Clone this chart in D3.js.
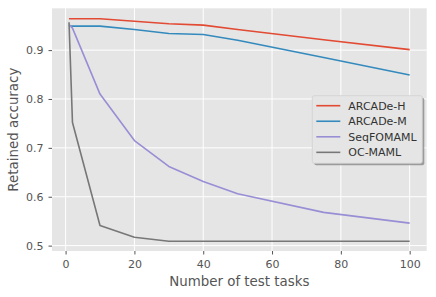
<!DOCTYPE html>
<html lang="en">
<head>
    <meta charset="UTF-8">
    <title>Retained accuracy</title>
    <script src="https://d3js.org/d3.v7.min.js"></script>
    <style>
        body { margin: 0; background: #fff; }
        svg { display: block; font-family: "DejaVu Sans", sans-serif; }
    </style>
</head>
<body>
    <svg id="chart" width="436" height="297"></svg>
    <script>
        // values
        const tasks = [1, 2, 10, 20, 30, 40, 50, 75, 100];
        const arcadeH = [0.964, 0.964, 0.964, 0.959, 0.954, 0.951, 0.942, 0.921, 0.901];
        const arcadeM = [0.949, 0.949, 0.949, 0.942, 0.934, 0.932, 0.920, 0.885, 0.849];
        const seqFomaml = [0.952, 0.945, 0.810, 0.715, 0.662, 0.631, 0.606, 0.568, 0.546];
        const ocMaml = [0.957, 0.752, 0.541, 0.517, 0.509, 0.509, 0.509, 0.509, 0.509];
        const seriesNames = ['ARCADe-H', 'ARCADe-M', 'SeqFOMAML', 'OC-MAML'];
        const seriesColors = ['#E24A33', '#348ABD', '#988ED5', '#777777'];
        const xTicks = [0, 20, 40, 60, 80, 100];
        const yTicks = [0.5, 0.6, 0.7, 0.8, 0.9];

        const series = [arcadeH, arcadeM, seqFomaml, ocMaml].map((vals, i) => ({
            name: seriesNames[i],
            color: seriesColors[i],
            points: tasks.map((t, j) => ({ x: t, y: vals[j] }))
        }));

        const svg = d3.select('#chart');
        const pLeft = 52, pRight = 426.7, pTop = 8.3, pBottom = 251;

        const x = d3.scaleLinear().domain([-3.95, 104.95]).range([pLeft, pRight]);
        const y = d3.scaleLinear().domain([0.489, 0.9855]).range([pBottom, pTop]);

        // panel background
        svg.append('rect')
            .attr('x', pLeft).attr('y', pTop)
            .attr('width', pRight - pLeft).attr('height', pBottom - pTop)
            .attr('fill', '#E5E5E5');

        // grid
        const grid = svg.append('g').attr('stroke', '#fff').attr('stroke-width', 1);
        grid.selectAll('.gx').data(xTicks).join('line').attr('class', 'gx')
            .attr('x1', d => x(d)).attr('x2', d => x(d))
            .attr('y1', pTop).attr('y2', pBottom);
        grid.selectAll('.gy').data(yTicks).join('line').attr('class', 'gy')
            .attr('y1', d => y(d)).attr('y2', d => y(d))
            .attr('x1', pLeft).attr('x2', pRight);

        // axes
        const xAxis = svg.append('g')
            .attr('transform', `translate(0,${pBottom})`)
            .call(d3.axisBottom(x).tickValues(xTicks).tickSize(3.5).tickPadding(6).tickFormat(d3.format('d')));
        const yAxis = svg.append('g')
            .attr('transform', `translate(${pLeft},0)`)
            .call(d3.axisLeft(y).tickValues(yTicks).tickSize(3.5).tickPadding(5).tickFormat(d3.format('.1f')));
        [xAxis, yAxis].forEach(a => {
            a.select('.domain').remove();
            a.selectAll('.tick line').attr('stroke', '#555');
            a.selectAll('.tick text')
                .attr('fill', '#555')
                .style('font-size', '11px')
                .style('font-family', '"DejaVu Sans", sans-serif');
        });

        // lines
        const line = d3.line().x(d => x(d.x)).y(d => y(d.y));
        svg.append('g').selectAll('path').data(series).join('path')
            .attr('d', d => line(d.points))
            .attr('fill', 'none')
            .attr('stroke', d => d.color)
            .attr('stroke-width', 1.6)
            .attr('stroke-linejoin', 'round');

        // axis labels
        svg.append('text')
            .attr('x', (pLeft + pRight) / 2).attr('y', 286)
            .attr('text-anchor', 'middle')
            .attr('fill', '#555')
            .style('font-size', '13.4px')
            .text('Number of test tasks');
        svg.append('text')
            .attr('transform', `translate(18,${(pTop + pBottom) / 2}) rotate(-90)`)
            .attr('text-anchor', 'middle')
            .attr('fill', '#555')
            .style('font-size', '13.4px')
            .text('Retained accuracy');

        // legend
        const lx = 312.3, ly = 95.7, lw = 110, lh = 67.6;
        svg.append('rect')
            .attr('x', lx + 2).attr('y', ly + 2)
            .attr('width', lw).attr('height', lh).attr('rx', 2)
            .attr('fill', '#888').attr('opacity', 0.8);
        svg.append('rect')
            .attr('x', lx).attr('y', ly)
            .attr('width', lw).attr('height', lh).attr('rx', 2)
            .attr('fill', '#E5E5E5').attr('stroke', '#cfcfcf').attr('stroke-width', 0.8);
        const items = svg.append('g').selectAll('g').data(series).join('g')
            .attr('transform', (d, i) => `translate(${lx},${ly + 10 + i * 15.55})`);
        items.append('line')
            .attr('x1', 4).attr('x2', 28)
            .attr('stroke', d => d.color).attr('stroke-width', 1.6);
        items.append('text')
            .attr('x', 36).attr('dy', '0.35em')
            .attr('fill', '#333')
            .style('font-size', '11px')
            .text(d => d.name);
    </script>
</body>
</html>
